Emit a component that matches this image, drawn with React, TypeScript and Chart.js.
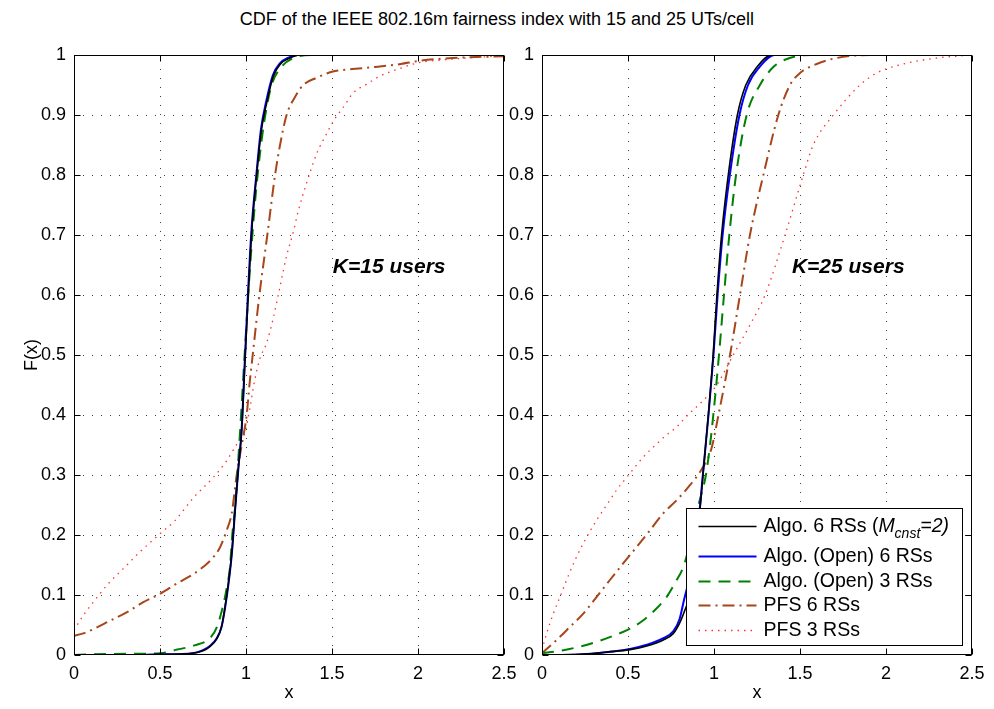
import React, { useEffect, useRef } from 'react';
import { Chart, registerables } from 'chart.js';

Chart.register(...registerables);

const FONT = "'Liberation Sans', Arial, Helvetica, sans-serif";

// ---------- texts & ticks ----------
const chartTitle = 'CDF of the IEEE 802.16m fairness index with 15 and 25 UTs/cell';
const xAxisTitle = 'x';
const yAxisTitle = 'F(x)';
const xTickValues = [0, 0.5, 1, 1.5, 2, 2.5];
const xTickLabels = ['0', '0.5', '1', '1.5', '2', '2.5'];
const yTickValues = [0, 0.1, 0.2, 0.3, 0.4, 0.5, 0.6, 0.7, 0.8, 0.9, 1];
const yTickLabels = ['0', '0.1', '0.2', '0.3', '0.4', '0.5', '0.6', '0.7', '0.8', '0.9', '1'];
const seriesNames = ['Algo. 6 RSs', 'Algo. (Open) 6 RSs', 'Algo. (Open) 3 RSs', 'PFS 6 RSs', 'PFS 3 RSs'];
const panelLabels = ['K=15 users', 'K=25 users'];
const panelLabelX = [1.505, 1.453];
const panelLabelY = [0.637, 0.637];

// ---------- K = 15 users ----------
const k15Algo6X = [0, 0.3, 0.5, 0.69, 0.75, 0.79, 0.83, 0.857, 0.878, 0.897, 0.917, 0.936, 0.955, 0.975, 0.994, 1.013, 1.033, 1.062, 1.09, 1.12, 1.159, 1.2, 1.256, 1.31, 2.5];
const k15Algo6F = [0, 0, 0.001, 0.003, 0.007, 0.014, 0.027, 0.046, 0.08, 0.119, 0.169, 0.241, 0.31, 0.375, 0.49, 0.6, 0.705, 0.8, 0.876, 0.92, 0.965, 0.985, 0.995, 1, 1];
const k15Open6X = [0, 0.3, 0.5, 0.69, 0.75, 0.79, 0.83, 0.858, 0.879, 0.899, 0.918, 0.937, 0.956, 0.975, 0.993, 1.011, 1.031, 1.06, 1.087, 1.117, 1.156, 1.197, 1.25, 1.3, 2.5];
const k15Open6F = [0, 0, 0.001, 0.003, 0.008, 0.015, 0.028, 0.047, 0.08, 0.12, 0.17, 0.243, 0.312, 0.378, 0.49, 0.6, 0.705, 0.8, 0.876, 0.922, 0.966, 0.986, 0.996, 1, 1];
const k15Open3X = [0, 0.1, 0.3, 0.5, 0.6, 0.7, 0.79, 0.83, 0.865, 0.885, 0.907, 0.92, 0.936, 0.965, 0.994, 1.023, 1.052, 1.081, 1.11, 1.149, 1.2, 1.275, 1.39, 2.5];
const k15Open3F = [0, 0.001, 0.002, 0.003, 0.009, 0.016, 0.028, 0.046, 0.08, 0.107, 0.147, 0.2, 0.245, 0.37, 0.51, 0.644, 0.753, 0.835, 0.896, 0.95, 0.978, 0.995, 1, 1];
const k15Pfs6X = [0, 0.054, 0.112, 0.209, 0.306, 0.403, 0.5, 0.597, 0.694, 0.752, 0.81, 0.85, 0.888, 0.917, 0.946, 0.975, 1.004, 1.02, 1.039, 1.078, 1.124, 1.169, 1.198, 1.236, 1.285, 1.333, 1.41, 1.5, 1.6, 1.75, 1.9, 2.0, 2.2, 2.5];
const k15Pfs6F = [0.032, 0.036, 0.043, 0.057, 0.071, 0.088, 0.102, 0.119, 0.135, 0.147, 0.163, 0.18, 0.208, 0.236, 0.3, 0.35, 0.4, 0.45, 0.5, 0.6, 0.7, 0.8, 0.85, 0.9, 0.93, 0.95, 0.962, 0.972, 0.976, 0.98, 0.985, 0.99, 0.995, 0.998];
const k15Pfs3X = [0, 0.054, 0.112, 0.2, 0.287, 0.384, 0.5, 0.587, 0.694, 0.81, 0.888, 0.946, 0.994, 1.023, 1.052, 1.081, 1.12, 1.159, 1.2, 1.236, 1.275, 1.304, 1.353, 1.41, 1.469, 1.508, 1.566, 1.624, 1.7, 1.78, 1.9, 2.0, 2.147, 2.34, 2.5];
const k15Pfs3F = [0.041, 0.066, 0.088, 0.119, 0.144, 0.172, 0.202, 0.224, 0.262, 0.296, 0.324, 0.351, 0.371, 0.412, 0.46, 0.494, 0.52, 0.562, 0.617, 0.665, 0.705, 0.74, 0.787, 0.835, 0.869, 0.89, 0.913, 0.937, 0.951, 0.965, 0.978, 0.987, 0.992, 0.996, 0.999];

// ---------- K = 25 users ----------
const k25Algo6X = [0, 0.22, 0.415, 0.512, 0.609, 0.705, 0.764, 0.8, 0.831, 0.86, 0.885, 0.919, 0.936, 0.967, 0.995, 1.017, 1.044, 1.083, 1.136, 1.185, 1.25, 1.335, 2.5];
const k25Algo6F = [0, 0.001, 0.006, 0.009, 0.015, 0.025, 0.036, 0.053, 0.075, 0.1, 0.15, 0.244, 0.3, 0.4, 0.5, 0.6, 0.7, 0.8, 0.9, 0.95, 0.98, 1, 1];
const k25Open6X = [0, 0.22, 0.415, 0.512, 0.609, 0.705, 0.764, 0.8, 0.826, 0.855, 0.88, 0.917, 0.935, 0.968, 0.997, 1.021, 1.05, 1.092, 1.148, 1.198, 1.265, 1.35, 2.5];
const k25Open6F = [0, 0.001, 0.006, 0.01, 0.017, 0.028, 0.04, 0.06, 0.092, 0.125, 0.158, 0.244, 0.3, 0.4, 0.5, 0.6, 0.7, 0.8, 0.9, 0.95, 0.98, 1, 1];
const k25Open3X = [0, 0.124, 0.22, 0.318, 0.415, 0.512, 0.589, 0.667, 0.725, 0.783, 0.822, 0.86, 0.91, 0.953, 0.977, 0.996, 1.029, 1.058, 1.089, 1.128, 1.19, 1.267, 1.345, 1.44, 1.56, 2.5];
const k25Open3F = [0.003, 0.008, 0.014, 0.022, 0.032, 0.044, 0.058, 0.078, 0.097, 0.125, 0.147, 0.186, 0.25, 0.3, 0.35, 0.4, 0.5, 0.6, 0.7, 0.8, 0.9, 0.95, 0.98, 0.995, 1, 1];
const k25Pfs6X = [0, 0.085, 0.163, 0.24, 0.318, 0.395, 0.473, 0.55, 0.628, 0.705, 0.783, 0.86, 0.938, 0.986, 1.026, 1.093, 1.151, 1.209, 1.287, 1.374, 1.442, 1.5, 1.597, 1.713, 1.907, 2.5];
const k25Pfs6F = [0.003, 0.025, 0.047, 0.069, 0.097, 0.125, 0.153, 0.18, 0.208, 0.236, 0.258, 0.283, 0.314, 0.345, 0.4, 0.5, 0.6, 0.7, 0.8, 0.9, 0.95, 0.97, 0.985, 0.995, 1, 1];
const k25Pfs3X = [0, 0.027, 0.066, 0.105, 0.143, 0.192, 0.24, 0.318, 0.376, 0.434, 0.512, 0.589, 0.667, 0.725, 0.783, 0.841, 0.957, 1.016, 1.112, 1.209, 1.297, 1.413, 1.519, 1.577, 1.694, 1.849, 1.946, 2.1, 2.295, 2.5];
const k25Pfs3F = [0.008, 0.036, 0.069, 0.097, 0.125, 0.158, 0.186, 0.225, 0.25, 0.275, 0.303, 0.33, 0.352, 0.367, 0.38, 0.398, 0.43, 0.45, 0.5, 0.55, 0.6, 0.7, 0.8, 0.85, 0.9, 0.95, 0.97, 0.985, 0.995, 1];

const panels = [
  [[k15Algo6X, k15Algo6F], [k15Open6X, k15Open6F], [k15Open3X, k15Open3F], [k15Pfs6X, k15Pfs6F], [k15Pfs3X, k15Pfs3F]],
  [[k25Algo6X, k25Algo6F], [k25Open6X, k25Open6F], [k25Open3X, k25Open3F], [k25Pfs6X, k25Pfs6F], [k25Pfs3X, k25Pfs3F]],
];

// ---------- styles ----------
const seriesStyles = [
  { color: '#000000', width: 1.6, dash: [] as number[] },
  { color: '#0000ff', width: 2, dash: [] as number[] },
  { color: '#008000', width: 2, dash: [12, 8] },
  { color: '#a8461a', width: 2, dash: [12, 5, 2, 5] },
  { color: '#ff3030', width: 1.3, dash: [1.5, 5] },
];

const W = 994;
const H = 709;
const AREA_TOP = 55;
const AREA_BOTTOM = 655;
const PANEL_LEFT = [74, 542];
const PANEL_RIGHT = [504, 972];

const matlabAxes = {
  id: 'matlabAxes',
  beforeDatasetsDraw(chart: any) {
    const { ctx, chartArea: a, scales } = chart;
    ctx.save();
    ctx.strokeStyle = 'rgba(0,0,0,0.75)';
    ctx.lineWidth = 1;
    ctx.setLineDash([1, 8]);
    xTickValues.forEach((v) => {
      const px = Math.round(scales.x.getPixelForValue(v)) + 0.5;
      if (px < a.left + 2 || px > a.right - 2) return;
      ctx.beginPath();
      ctx.moveTo(px, a.bottom);
      ctx.lineTo(px, a.top);
      ctx.stroke();
    });
    yTickValues.forEach((v) => {
      const py = Math.round(scales.y.getPixelForValue(v)) + 0.5;
      if (py < a.top + 2 || py > a.bottom - 2) return;
      ctx.beginPath();
      ctx.moveTo(a.left, py);
      ctx.lineTo(a.right, py);
      ctx.stroke();
    });
    ctx.restore();
  },
  afterDatasetsDraw(chart: any, _args: any, opts: any) {
    const { ctx, chartArea: a, scales } = chart;
    ctx.save();
    ctx.setLineDash([]);
    ctx.strokeStyle = '#000';
    ctx.lineWidth = 1;
    const L = Math.round(a.left) + 0.5;
    const R = Math.round(a.right) - 0.5;
    const T = Math.round(a.top) + 0.5;
    const B = Math.round(a.bottom) - 0.5;
    ctx.strokeRect(L, T, R - L, B - T);
    const tl = 6;
    ctx.beginPath();
    xTickValues.forEach((v) => {
      const px = Math.round(scales.x.getPixelForValue(v)) + 0.5;
      ctx.moveTo(px, B);
      ctx.lineTo(px, B - tl);
      ctx.moveTo(px, T);
      ctx.lineTo(px, T + tl);
    });
    yTickValues.forEach((v) => {
      const py = Math.round(scales.y.getPixelForValue(v)) + 0.5;
      ctx.moveTo(L, py);
      ctx.lineTo(L + tl, py);
      ctx.moveTo(R, py);
      ctx.lineTo(R - tl, py);
    });
    ctx.stroke();

    // panel annotation
    ctx.fillStyle = '#000';
    ctx.font = `italic bold 21px ${FONT}`;
    ctx.textAlign = 'left';
    ctx.textBaseline = 'alphabetic';
    ctx.fillText(opts.label, scales.x.getPixelForValue(opts.labelX), scales.y.getPixelForValue(opts.labelY));

    if (opts.legend) {
      const bw = 276;
      const bh = 137;
      const bx = Math.round(a.right) - 10 - bw + 0.5;
      const by = Math.round(a.bottom) - 10 - bh + 0.5;
      ctx.fillStyle = '#fff';
      ctx.fillRect(bx, by, bw, bh);
      ctx.strokeStyle = '#000';
      ctx.lineWidth = 1;
      ctx.strokeRect(bx, by, bw, bh);
      const rowOffsets = [18, 48, 73, 97, 122];
      const fs = 19.5;
      seriesNames.forEach((name, i) => {
        const y = by + rowOffsets[i];
        const st = seriesStyles[i];
        ctx.save();
        ctx.strokeStyle = st.color;
        ctx.lineWidth = st.width;
        ctx.setLineDash(st.dash);
        ctx.beginPath();
        ctx.moveTo(bx + 12, y);
        ctx.lineTo(bx + 70, y);
        ctx.stroke();
        ctx.restore();
        ctx.fillStyle = '#000';
        ctx.textBaseline = 'middle';
        ctx.textAlign = 'left';
        let tx = bx + 77;
        ctx.font = `${fs}px ${FONT}`;
        if (i === 0) {
          const a1 = name + ' (';
          ctx.fillText(a1, tx, y);
          tx += ctx.measureText(a1).width;
          ctx.font = `italic ${fs}px ${FONT}`;
          ctx.fillText('M', tx, y);
          tx += ctx.measureText('M').width;
          ctx.font = `italic 14px ${FONT}`;
          ctx.fillText('cnst', tx, y + 8);
          tx += ctx.measureText('cnst').width;
          ctx.font = `italic ${fs}px ${FONT}`;
          ctx.fillText('=2)', tx, y);
        } else {
          ctx.fillText(name, tx, y);
        }
      });
    }
    ctx.restore();
  },
};

function makeConfig(panelIndex: number): any {
  const datasets = panels[panelIndex].map(([xs, fs], i) => ({
    label: seriesNames[i],
    data: xs.map((x, j) => ({ x, y: fs[j] })),
    borderColor: seriesStyles[i].color,
    borderWidth: seriesStyles[i].width,
    borderDash: seriesStyles[i].dash,
    pointRadius: 0,
    fill: false,
    cubicInterpolationMode: 'monotone',
  }));
  const isLeft = panelIndex === 0;
  const tickFont = { family: FONT, size: 18 };
  return {
    type: 'line',
    data: { datasets },
    plugins: [matlabAxes],
    options: {
      animation: false,
      responsive: false,
      devicePixelRatio: 1,
      events: [],
      layout: {
        padding: { left: 0, top: AREA_TOP, right: W - PANEL_RIGHT[panelIndex], bottom: 0 },
      },
      plugins: {
        legend: { display: false },
        tooltip: { enabled: false },
        title: { display: false },
        matlabAxes: {
          label: panelLabels[panelIndex],
          labelX: panelLabelX[panelIndex],
          labelY: panelLabelY[panelIndex],
          legend: !isLeft,
        },
      },
      scales: {
        x: {
          type: 'linear',
          min: 0,
          max: 2.5,
          afterBuildTicks: (s: any) => {
            s.ticks = xTickValues.map((value) => ({ value }));
          },
          afterFit: (s: any) => {
            s.height = H - AREA_BOTTOM;
          },
          ticks: {
            autoSkip: false,
            maxRotation: 0,
            padding: 8,
            color: '#000',
            font: tickFont,
            callback: (_v: any, i: number) => xTickLabels[i],
          },
          grid: { display: false, drawTicks: false },
          border: { display: false },
          title: {
            display: true,
            text: xAxisTitle,
            color: '#000',
            font: { family: FONT, size: 18 },
            padding: { top: 0, bottom: 5 },
          },
        },
        y: {
          type: 'linear',
          min: 0,
          max: 1,
          afterBuildTicks: (s: any) => {
            s.ticks = yTickValues.map((value) => ({ value }));
          },
          afterFit: (s: any) => {
            s.width = PANEL_LEFT[panelIndex];
          },
          ticks: {
            autoSkip: false,
            padding: 8,
            color: '#000',
            font: tickFont,
            callback: (_v: any, i: number) => yTickLabels[i],
          },
          grid: { display: false, drawTicks: false },
          border: { display: false },
          title: {
            display: isLeft,
            text: yAxisTitle,
            color: '#000',
            font: { family: FONT, size: 18 },
            padding: { top: 21, bottom: 0 },
          },
        },
      },
    },
  };
}

function Panel({ index }: { index: number }) {
  const ref = useRef<HTMLCanvasElement | null>(null);
  useEffect(() => {
    if (!ref.current) return;
    const chart = new Chart(ref.current, makeConfig(index));
    return () => chart.destroy();
  }, [index]);
  return (
    <canvas
      ref={ref}
      width={W}
      height={H}
      style={{ position: 'absolute', left: 0, top: 0, width: W, height: H }}
    />
  );
}

export default function App() {
  return (
    <div
      style={{
        position: 'absolute',
        left: 0,
        top: 0,
        width: W,
        height: H,
        background: '#fff',
        overflow: 'hidden',
      }}
    >
      <div
        style={{
          position: 'absolute',
          left: 0,
          top: 8,
          width: W,
          textAlign: 'center',
          fontFamily: FONT,
          fontSize: 18,
          lineHeight: '22px',
          color: '#000',
        }}
      >
        {chartTitle}
      </div>
      <Panel index={0} />
      <Panel index={1} />
    </div>
  );
}
